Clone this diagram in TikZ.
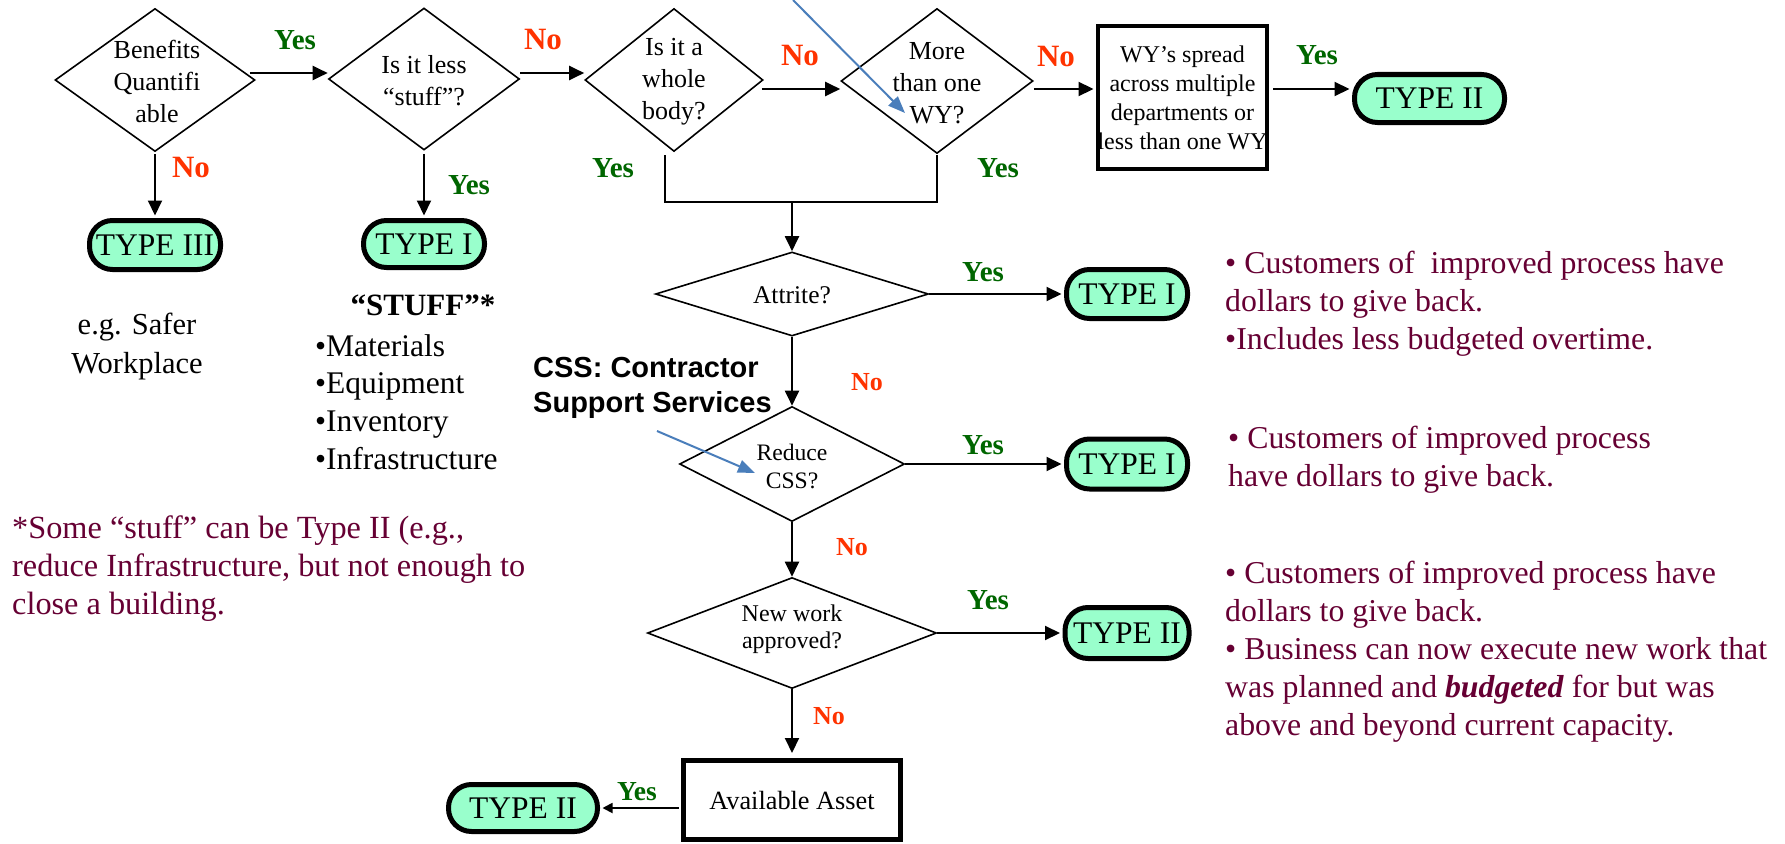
\documentclass[tikz,border=0pt]{standalone}
\usepackage{fontspec}
\setmainfont{Liberation Serif}
\newfontfamily\cssfont{Liberation Sans}
\usetikzlibrary{shapes.geometric,arrows.meta,calc}
\definecolor{yesgreen}{RGB}{0,102,0}
\definecolor{nored}{RGB}{255,51,0}
\definecolor{maroon}{RGB}{102,0,51}
\definecolor{mint}{RGB}{153,255,204}
\definecolor{cssblue}{RGB}{74,126,187}
\newcommand{\fs}[2]{\fontsize{#1}{#2}\selectfont}
\begin{document}
\begin{tikzpicture}[x=1pt,y=-1pt,
  dia/.style={draw, diamond, line width=1.6pt, inner sep=0pt},
  dtext/.style={align=center, inner sep=0pt},
  pill/.style={draw, line width=5pt, fill=mint, rounded corners=23pt, inner sep=0pt, font=\fs{31.5}{36}},
  arr/.style={line width=2pt, -{Triangle[length=15pt,width=14pt]}},
  plain/.style={line width=2pt},
  bluearr/.style={draw=cssblue, line width=2pt, -{Triangle[length=17pt,width=13pt]}},
  yeslbl/.style={text=yesgreen, inner sep=0pt, font=\bfseries\fs{29}{30}},
  nolbl/.style={text=nored, inner sep=0pt, font=\bfseries\fs{31}{33}},
  nosmall/.style={text=nored, inner sep=0pt, font=\bfseries\fs{26}{28}},
  note/.style={anchor=north west, align=left, inner sep=0pt, text=maroon, font=\fs{31.8}{38}}
]
\useasboundingbox (0,0) rectangle (1785,843);

% top row diamonds
\node[dia, minimum width=200pt, minimum height=143pt] (d1) at (155,80) {};
\node[dtext, font=\fs{26}{32}] (d1t) at (157,81.5) {Benefits\\Quantifi\\able};
\node[dia, minimum width=191pt, minimum height=142pt] (d2) at (424,79) {};
\node[dtext, font=\fs{26}{32}] (d2t) at (424,81) {Is it less\\“stuff”?};
\node[dia, minimum width=178pt, minimum height=143pt] (d3) at (674,80) {};
\node[dtext, font=\fs{26}{32}] (d3t) at (674,81.5) {Is it a\\whole\\body?};
\node[dia, minimum width=192pt, minimum height=145pt] (d4) at (937,81) {};
\node[dtext, font=\fs{26}{32}] (d4t) at (937,83.5) {More\\than one\\WY?};
\node[draw, line width=4pt, minimum width=169pt, minimum height=143pt, inner sep=0pt, align=center, font=\fs{24}{29}] (wy) at (1182.5,97.5) {WY’s spread\\across multiple\\departments or\\less than one WY};
\node[pill, minimum width=150pt, minimum height=48pt] (ptop) at (1429.5,98.5) {TYPE II};

% left outcomes
\node[pill, minimum width=131pt, minimum height=49pt] (t3) at (155,245) {TYPE III};
\node[pill, minimum width=121pt, minimum height=47pt] (t1) at (424,244) {TYPE I};

% middle column
\coordinate (bj) at (792,202);
\node[dia, minimum width=273pt, minimum height=84pt] (att) at (792,294) {};
\node[dtext, font=\fs{25.5}{30}] (attt) at (792,295) {Attrite?};
\node[dia, minimum width=225pt, minimum height=115pt] (red) at (792,464) {};
\node[dtext, font=\fs{23.6}{28}] (redt) at (792,466) {Reduce\\CSS?};
\node[dia, minimum width=289pt, minimum height=111pt] (nw) at (792,633) {};
\node[dtext, font=\fs{24}{27}] (nwt) at (792,629.5) {New work\\approved?};
\node[draw, line width=5pt, minimum width=217pt, minimum height=79pt, inner sep=0pt, font=\fs{26.3}{30}] (aa) at (792,800) {Available Asset};

% right outcomes
\node[pill, minimum width=121pt, minimum height=49pt] (pr1) at (1127,294) {TYPE I};
\node[pill, minimum width=121pt, minimum height=50pt] (pr2) at (1127,464) {TYPE I};
\node[pill, minimum width=124pt, minimum height=51pt] (pr3) at (1127,633) {TYPE II};
\node[pill, minimum width=149pt, minimum height=47pt] (pb) at (523,808) {TYPE II};

% connectors
\draw[arr] ([xshift=-6pt,yshift=7pt]d1.east) -- ([yshift=6pt]d2.west);
\draw[arr] ([yshift=6pt]d2.east) -- ([yshift=7pt]d3.west);
\draw[arr] ([xshift=-2pt,yshift=-9pt]d3.east) -- ([yshift=-8pt]d4.west);
\draw[arr] ([yshift=-8pt]d4.east) -- ([xshift=-2pt,yshift=8.5pt]wy.west);
\draw[arr] ([xshift=4pt,yshift=8.5pt]wy.east) -- ([xshift=-2.5pt,yshift=9.5pt]ptop.west);
\draw[arr] ([yshift=-2pt]d1.south) -- ([yshift=2.5pt]t3.north);
\draw[arr] ([yshift=-3pt]d2.south) -- ([yshift=2.5pt]t1.north);
\draw[plain] ([xshift=-9pt,yshift=-3pt]d3.south) |- (bj) -| ([yshift=-1pt]d4.south);
\draw[arr] (bj) -- (att.north);
\draw[arr] (att.east) -- ([xshift=-2.5pt]pr1.west);
\draw[arr] (att.south) -- (red.north);
\draw[arr] (red.east) -- ([xshift=-2.5pt]pr2.west);
\draw[arr] (red.south) -- (nw.north);
\draw[arr] (nw.east) -- ([xshift=-2.5pt]pr3.west);
\draw[arr] (nw.south) -- ([yshift=5pt]aa.north);
\draw[line width=1.8pt, -{Triangle[length=10pt,width=10pt]}] ($(aa.west)+(-2.5,8)$) -- ([xshift=2.5pt]pb.east);

% blue pointer arrows
\coordinate (b1s) at (793,0);
\coordinate (b1e) at (905,113);
\draw[bluearr] (b1s) -- (b1e);
\coordinate (b2s) at (657,431);
\coordinate (b2e) at (755,473);
\draw[bluearr] (b2s) -- (b2e);

% yes / no labels
\node[yeslbl] (y1) at (295,40) {Yes};
\node[nolbl] (n1) at (543,40) {No};
\node[nolbl] (n2) at (800,56) {No};
\node[nolbl] (n3) at (1056,57) {No};
\node[yeslbl] (y2) at (1317,55) {Yes};
\node[nolbl] (n4) at (191,168) {No};
\node[yeslbl] (y3) at (469,185) {Yes};
\node[yeslbl] (y4) at (613,168) {Yes};
\node[yeslbl] (y5) at (998,168) {Yes};
\node[yeslbl] (y6) at (983,272) {Yes};
\node[nosmall] (n5) at (867,382) {No};
\node[yeslbl] (y7) at (983,445) {Yes};
\node[nosmall] (n6) at (852,547) {No};
\node[yeslbl] (y8) at (988,600) {Yes};
\node[nosmall] (n7) at (829,716) {No};
\node[yeslbl, font=\bfseries\fs{27.5}{30}] (y9) at (637,792) {Yes};

% texts
\node[anchor=west, align=left, inner sep=0pt, font=\cssfont\bfseries\fs{29}{35}] (css) at (533,388) {CSS: Contractor\\Support Services};
\node[anchor=north, align=center, inner sep=0pt, font=\fs{30.5}{39}] (eg) at (137,312.5) {e.g. Safer\\Workplace};
\node[inner sep=0pt, font=\bfseries\fs{31}{36}] (stufft) at (423,305) {“STUFF”*};
\node[anchor=north west, align=left, inner sep=0pt, font=\fs{31.5}{37.7}] (stuffl) at (315,334) {•Materials\\•Equipment\\•Inventory\\•Infrastructure};
\node[note, font=\fs{32.3}{38}] (foot) at (12,516) {*Some “stuff” can be Type II (e.g.,\\reduce Infrastructure, but not enough to\\close a building.};
\node[note] (r1) at (1225,251) {• Customers of~ improved process have\\dollars to give back.\\•Includes less budgeted overtime.};
\node[note] (r2) at (1228,426) {• Customers of improved process\\have dollars to give back.};
\node[note] (r3) at (1225,561) {• Customers of improved process have\\dollars to give back.\\• Business can now execute new work that\\was planned and \textbf{\textit{budgeted}} for but was\\above and beyond current capacity.};
\end{tikzpicture}
\end{document}
